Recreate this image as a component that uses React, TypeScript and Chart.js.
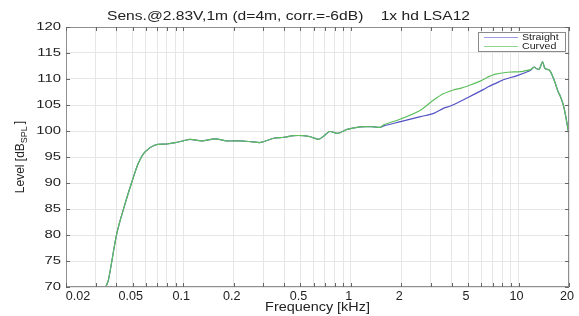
import React, { useEffect, useRef } from "react";
import { Chart, registerables } from "chart.js";

Chart.register(...registerables);

// ---------- data ----------
const titleText = "Sens.@2.83V,1m (d=4m, corr.=-6dB)    1x hd LSA12";
const xTitle = "Frequency [kHz]";
const yTitleMain = "Level [dB";
const yTitleSub = "SPL";
const yTitleEnd = "]";
const seriesNames = ["Straight", "Curved"];

const xGridValues = [
  0.02, 0.03, 0.04, 0.05, 0.06, 0.07, 0.08, 0.09,
  0.1, 0.2, 0.3, 0.4, 0.5, 0.6, 0.7, 0.8, 0.9,
  1, 2, 3, 4, 5, 6, 7, 8, 9,
  10, 20,
];
const xTickValues = [0.02, 0.05, 0.1, 0.2, 0.5, 1, 2, 5, 10, 20];
const xTickLabels = ["0.02", "0.05", "0.1", "0.2", "0.5", "1", "2", "5", "10", "20"];
const yTickValues = [70, 75, 80, 85, 90, 95, 100, 105, 110, 115, 120];

const commonFreq = [
  0.0345, 0.0358, 0.0402, 0.0451, 0.0494, 0.054, 0.0592, 0.068, 0.0798, 0.0896,
  0.1, 0.11, 0.129, 0.155, 0.182, 0.219, 0.26, 0.29, 0.346, 0.398,
  0.456, 0.52, 0.574, 0.64, 0.688, 0.748, 0.834, 0.95, 1.14, 1.37, 1.5,
];
const commonLevel = [
  70.0, 71.3, 80.3, 86.1, 90.2, 93.8, 96.0, 97.3, 97.5, 97.75,
  98.1, 98.4, 98.1, 98.5, 98.1, 98.1, 97.9, 97.8, 98.6, 98.8,
  99.1, 99.1, 98.9, 98.4, 99.0, 99.9, 99.55, 100.3, 100.8, 100.8, 100.7,
];

const straightHighFreq = [
  1.57, 1.98, 2.6, 3.12, 3.58, 3.92, 4.96, 6.2, 6.6, 7.8, 8.2, 9.9, 11.3, 11.8,
  12.4, 12.8, 13.3, 13.9, 14.4, 15.3, 16.3, 17.2, 17.8, 18.5, 19.1, 20,
];
const straightHighLevel = [
  101.0, 101.8, 102.75, 103.4, 104.4, 104.8, 106.4, 108.0, 108.5, 109.6, 109.9, 110.7, 111.4, 111.7,
  112.3, 112.0, 111.9, 113.3, 112.0, 111.7, 109.8, 107.6, 106.6, 105.0, 102.9, 99.2,
];

const curvedHighFreq = [
  1.57, 1.98, 2.6, 3.1, 3.58, 4.1, 4.6, 5.2, 5.9, 6.5, 7.2, 8.6, 10.3, 11.0, 11.8,
  12.4, 12.8, 13.3, 13.9, 14.4, 15.3, 16.3, 17.2, 17.8, 18.5, 19.1, 20,
];
const curvedHighLevel = [
  101.2, 102.3, 104.0, 105.9, 107.2, 107.9, 108.3, 108.9, 109.6, 110.3, 110.9, 111.3, 111.4, 111.6, 111.8,
  112.3, 112.0, 111.9, 113.3, 112.0, 111.7, 109.8, 107.6, 106.6, 105.0, 102.9, 99.2,
];

const straightColor = "#5252c4";
const curvedColor = "#5cbf5c";
const straightLegendColor = "#9a9ae6";
const curvedLegendColor = "#8fd48f";

const FONT = '"Liberation Sans", Arial, Helvetica, sans-serif';

function toPoints(fs: number[], ls: number[]) {
  return fs.map((f, i) => ({ x: f, y: ls[i] }));
}

function drawStretched(
  ctx: CanvasRenderingContext2D,
  text: string,
  x: number,
  y: number,
  size: number,
  align: "left" | "center" | "right",
  sx: number,
  color = "#222"
) {
  ctx.save();
  ctx.font = `${size}px ${FONT}`;
  ctx.fillStyle = color;
  ctx.textBaseline = "middle";
  ctx.textAlign = "left";
  const w = ctx.measureText(text).width * sx;
  const left = align === "center" ? x - w / 2 : align === "right" ? x - w : x;
  ctx.translate(left, y);
  ctx.scale(sx, 1);
  ctx.fillText(text, 0, 0);
  ctx.restore();
  return w;
}

const decorPlugin = {
  id: "decor",
  afterDraw(chart: any) {
    const ctx: CanvasRenderingContext2D = chart.ctx;
    const { left, right, top, bottom } = chart.chartArea;
    const xs = chart.scales.x;
    const ys = chart.scales.y;

    // frame
    ctx.save();
    ctx.strokeStyle = "#8f8f8f";
    ctx.lineWidth = 1;
    ctx.strokeRect(Math.round(left) + 0.5, Math.round(top) + 0.5, Math.round(right - left) - 1, Math.round(bottom - top) - 1);

    // inner tick marks
    ctx.strokeStyle = "#666";
    ctx.beginPath();
    xGridValues.forEach((v) => {
      const px = Math.round(xs.getPixelForValue(v)) + 0.5;
      ctx.moveTo(px, bottom);
      ctx.lineTo(px, bottom - 4);
      ctx.moveTo(px, top);
      ctx.lineTo(px, top + 4);
    });
    yTickValues.forEach((v) => {
      const py = Math.round(ys.getPixelForValue(v)) + 0.5;
      ctx.moveTo(left, py);
      ctx.lineTo(left + 4, py);
      ctx.moveTo(right, py);
      ctx.lineTo(right - 4, py);
    });
    ctx.stroke();
    ctx.restore();

    // y tick labels
    yTickValues.forEach((v) => {
      const py = ys.getPixelForValue(v);
      drawStretched(ctx, String(v), left - 5, py, 11, "right", 1.35, "#222");
    });
    // x tick labels
    xTickValues.forEach((v, i) => {
      const px = xs.getPixelForValue(v);
      const off = i === 0 ? 12 : -2;
      drawStretched(ctx, xTickLabels[i], px + off, bottom + 10, 12, "center", 1.05, "#222");
    });

    // x title
    drawStretched(ctx, xTitle, (left + right) / 2, bottom + 21, 12, "center", 1.2, "#222");

    // title
    ctx.save();
    ctx.font = `12px ${FONT}`;
    const natural = ctx.measureText(titleText).width;
    ctx.restore();
    const targetW = 363;
    drawStretched(ctx, titleText, 107, 17, 12, "left", targetW / natural, "#222");

    // y title with subscript
    ctx.save();
    ctx.translate(21, (top + bottom) / 2);
    ctx.rotate(-Math.PI / 2);
    ctx.fillStyle = "#222";
    ctx.textBaseline = "middle";
    ctx.font = `12px ${FONT}`;
    const w1 = ctx.measureText(yTitleMain).width;
    ctx.font = `9px ${FONT}`;
    const w2 = ctx.measureText(yTitleSub).width;
    ctx.font = `12px ${FONT}`;
    const w3 = ctx.measureText(yTitleEnd).width;
    const tot = w1 + w2 + w3 + 2;
    let cx = -tot / 2;
    ctx.font = `12px ${FONT}`;
    ctx.fillText(yTitleMain, cx, 0);
    cx += w1;
    ctx.font = `9px ${FONT}`;
    ctx.fillText(yTitleSub, cx, 4);
    cx += w2 + 2;
    ctx.font = `12px ${FONT}`;
    ctx.fillText(yTitleEnd, cx, -1);
    ctx.restore();

    // legend box
    const lx = 478, ly = 32, lw = 88, lh = 20;
    ctx.save();
    ctx.fillStyle = "#fff";
    ctx.fillRect(lx, ly, lw, lh);
    ctx.strokeStyle = "#8a8a8a";
    ctx.lineWidth = 1;
    ctx.strokeRect(lx + 0.5, ly + 0.5, lw - 1, lh - 1);
    const rows = [
      { name: seriesNames[0], color: straightLegendColor, y: ly + 5.5 },
      { name: seriesNames[1], color: curvedLegendColor, y: ly + 14.5 },
    ];
    rows.forEach((r) => {
      ctx.strokeStyle = r.color;
      ctx.lineWidth = 1.2;
      ctx.beginPath();
      ctx.moveTo(lx + 6, r.y);
      ctx.lineTo(lx + 40, r.y);
      ctx.stroke();
      drawStretched(ctx, r.name, lx + 44, r.y, 9.5, "left", 1.12, "#222");
    });
    ctx.restore();
  },
};

export default function App() {
  const ref = useRef<HTMLCanvasElement | null>(null);

  useEffect(() => {
    if (!ref.current) return;
    const straightData = toPoints(
      commonFreq.concat(straightHighFreq),
      commonLevel.concat(straightHighLevel)
    );
    const curvedData = toPoints(
      commonFreq.concat(curvedHighFreq),
      commonLevel.concat(curvedHighLevel)
    );
    const chart = new Chart(ref.current, {
      type: "line",
      data: {
        datasets: [
          {
            label: seriesNames[0],
            data: straightData,
            borderColor: straightColor,
            borderWidth: 1.2,
            pointRadius: 0,
            tension: 0.3,
            order: 1,
          },
          {
            label: seriesNames[1],
            data: curvedData,
            borderColor: curvedColor,
            borderWidth: 1.2,
            pointRadius: 0,
            tension: 0.3,
            order: 0,
          },
        ],
      },
      options: {
        animation: false,
        responsive: false,
        maintainAspectRatio: false,
        layout: { padding: { top: 27, right: 10, left: 0, bottom: 0 } },
        plugins: {
          legend: { display: false },
          tooltip: { enabled: false },
          title: { display: false },
        },
        scales: {
          x: {
            type: "logarithmic",
            min: 0.02,
            max: 20,
            afterBuildTicks: (scale: any) => {
              scale.ticks = xGridValues.map((v) => ({ value: v }));
            },
            afterFit: (scale: any) => {
              scale.height = 29;
            },
            ticks: { display: false },
            grid: { color: "#e6e6e6", lineWidth: 1, drawTicks: false },
            border: { display: false },
          },
          y: {
            type: "linear",
            min: 70,
            max: 120,
            afterBuildTicks: (scale: any) => {
              scale.ticks = yTickValues.map((v) => ({ value: v }));
            },
            afterFit: (scale: any) => {
              scale.width = 66;
            },
            ticks: { display: false },
            grid: { color: "#e6e6e6", lineWidth: 1, drawTicks: false },
            border: { display: false },
          },
        },
      },
      plugins: [decorPlugin],
    });
    return () => chart.destroy();
  }, []);

  return (
    <div style={{ position: "absolute", left: 0, top: 0, width: 579, height: 316, background: "#fff" }}>
      <canvas ref={ref} width={579} height={316} style={{ width: 579, height: 316, display: "block" }} />
    </div>
  );
}
